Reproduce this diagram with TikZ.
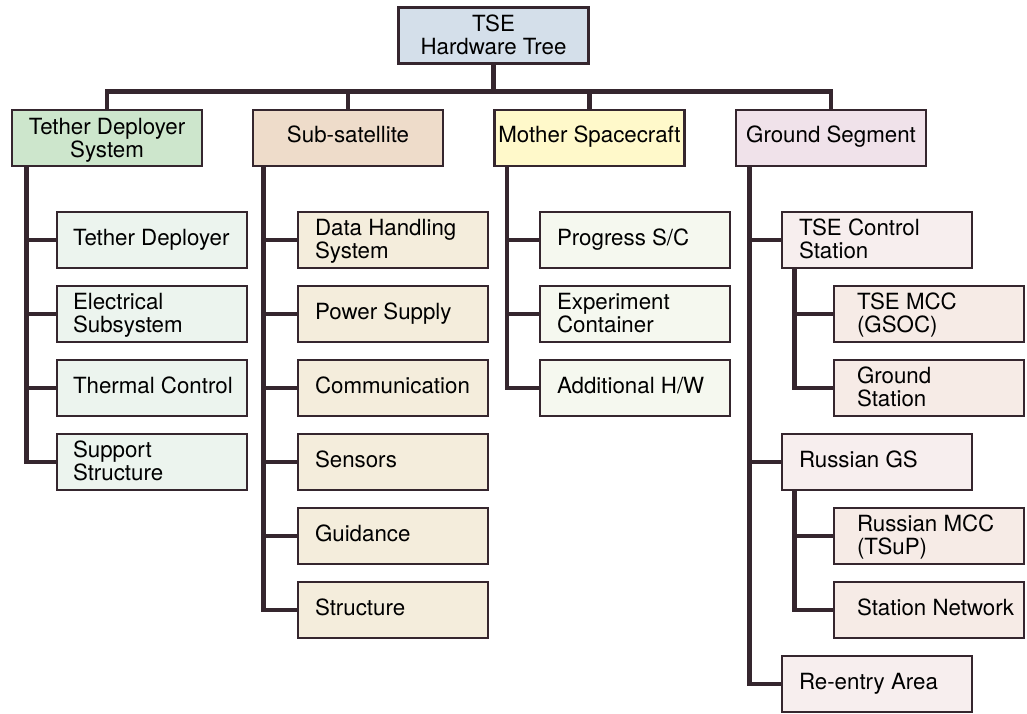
\documentclass[tikz,border=0pt]{standalone}
\usepackage{fontspec}
\setmainfont{TeX Gyre Heros}
\usetikzlibrary{backgrounds}
\definecolor{ln}{HTML}{35262E}
\definecolor{cTop}{HTML}{D4DFEA}
\definecolor{cTDS}{HTML}{CDE6CC}
\definecolor{cSS}{HTML}{EEDCCA}
\definecolor{cMS}{HTML}{FFF9CA}
\definecolor{cGS}{HTML}{F0E2EA}
\definecolor{kTDS}{HTML}{ECF4EE}
\definecolor{kSS}{HTML}{F4EDDC}
\definecolor{kMS}{HTML}{F5F8EF}
\definecolor{kGS}{HTML}{F7EEEE}
\definecolor{kGSb}{HTML}{F6EBE6}
\newcommand\Ltxt[3]{\raisebox{#1}[0pt][0pt]{\makebox[#2][l]{\begin{tabular}[b]{@{}l@{}}#3\end{tabular}}}}
\newcommand\Ctxt[2]{\raisebox{#1}[0pt][0pt]{\begin{tabular}[b]{@{}c@{}}#2\end{tabular}}}
\begin{document}
\begin{tikzpicture}[x=1pt,y=-1pt,
  bx/.style={draw=ln, line width=2.7pt, inner sep=0pt, minimum width=190pt, minimum height=56pt, font=\fontsize{22.3}{21}\selectfont},
  conn/.style={draw=ln, line width=4.5pt, line join=miter}]
\useasboundingbox (0,0) rectangle (1027,713);
% root
\node[bx, fill=cTop] (top) at (493.5,35.5) {\Ctxt{-18.5pt}{TSE\\Hardware Tree}};
% level 1
\node[bx, fill=cTDS] (tds) at (107,138) {\Ctxt{-19pt}{Tether Deployer\\System}};
\node[bx, fill=cSS] (ss) at (348,138) {\Ctxt{-4.5pt}{Sub-satellite}};
\node[bx, fill=cMS] (ms) at (589.5,138) {\Ctxt{-4.5pt}{Mother Spacecraft}};
\node[bx, fill=cGS] (gs) at (831,138) {\Ctxt{-4.5pt}{Ground Segment}};
% TDS children
\node[bx, fill=kTDS] (td1) at (152,240) {\Ltxt{-5pt}{158pt}{Tether Deployer}};
\node[bx, fill=kTDS] (td2) at (152,314) {\Ltxt{-18.5pt}{158pt}{Electrical\\Subsystem}};
\node[bx, fill=kTDS] (td3) at (152,388) {\Ltxt{-5pt}{158pt}{Thermal Control}};
\node[bx, fill=kTDS] (td4) at (152,462) {\Ltxt{-18.5pt}{158pt}{Support\\Structure}};
% Sub-satellite children
\node[bx, fill=kSS] (ss1) at (393,240) {\Ltxt{-18.5pt}{156pt}{Data Handling\\System}};
\node[bx, fill=kSS] (ss2) at (393,314) {\Ltxt{-5pt}{156pt}{Power Supply}};
\node[bx, fill=kSS] (ss3) at (393,388) {\Ltxt{-5pt}{156pt}{Communication}};
\node[bx, fill=kSS] (ss4) at (393,462) {\Ltxt{-5pt}{156pt}{Sensors}};
\node[bx, fill=kSS] (ss5) at (393,536) {\Ltxt{-5pt}{156pt}{Guidance}};
\node[bx, fill=kSS] (ss6) at (393,610) {\Ltxt{-5pt}{156pt}{Structure}};
% Mother spacecraft children
\node[bx, fill=kMS] (ms1) at (635,240) {\Ltxt{-5pt}{156pt}{Progress S/C}};
\node[bx, fill=kMS] (ms2) at (635,314) {\Ltxt{-18.5pt}{156pt}{Experiment\\Container}};
\node[bx, fill=kMS] (ms3) at (635,388) {\Ltxt{-5pt}{156pt}{Additional H/W}};
% Ground segment children
\node[bx, fill=kGS] (tcs) at (877,240) {\Ltxt{-18.5pt}{156pt}{TSE Control\\Station}};
\node[bx, fill=kGSb] (mcc) at (929,314) {\Ltxt{-18.5pt}{144pt}{TSE MCC\\(GSOC)}};
\node[bx, fill=kGSb] (gst) at (929,388) {\Ltxt{-18.5pt}{144pt}{Ground\\Station}};
\node[bx, fill=kGS] (rgs) at (877,462) {\Ltxt{-5pt}{156pt}{Russian GS}};
\node[bx, fill=kGSb] (rmcc) at (929,536) {\Ltxt{-18.5pt}{144pt}{Russian MCC\\(TSuP)}};
\node[bx, fill=kGSb] (sn) at (929,610) {\Ltxt{-5pt}{144pt}{Station Network}};
\node[bx, fill=kGS] (re) at (877,684) {\Ltxt{-5pt}{156pt}{Re-entry Area}};
% connectors
\begin{scope}[on background layer]
\coordinate (bus) at (0,91.5);
\draw[conn] (top.south) -- (top.south |- bus);
\draw[conn] (tds.north) -- (tds.north |- bus) -- (gs.north |- bus) -- (gs.north);
\draw[conn] (ss.north |- bus) -- (ss.north);
\draw[conn] (ms.north |- bus) -- (ms.north);
% TDS trunk
\coordinate (t1) at ([xshift=16pt]tds.south west);
\draw[conn] (t1) |- (td4.west);
\draw[conn] (t1 |- td1.west) -- (td1.west);
\draw[conn] (t1 |- td2.west) -- (td2.west);
\draw[conn] (t1 |- td3.west) -- (td3.west);
% SS trunk
\coordinate (s1) at ([xshift=12pt]ss.south west);
\draw[conn] (s1) |- (ss6.west);
\draw[conn] (s1 |- ss1.west) -- (ss1.west);
\draw[conn] (s1 |- ss2.west) -- (ss2.west);
\draw[conn] (s1 |- ss3.west) -- (ss3.west);
\draw[conn] (s1 |- ss4.west) -- (ss4.west);
\draw[conn] (s1 |- ss5.west) -- (ss5.west);
% MS trunk
\coordinate (m1) at ([xshift=14pt]ms.south west);
\draw[conn] (m1) |- (ms3.west);
\draw[conn] (m1 |- ms1.west) -- (ms1.west);
\draw[conn] (m1 |- ms2.west) -- (ms2.west);
% GS trunk
\coordinate (g1) at ([xshift=15pt]gs.south west);
\draw[conn] (g1) |- (re.west);
\draw[conn] (g1 |- tcs.west) -- (tcs.west);
\draw[conn] (g1 |- rgs.west) -- (rgs.west);
\coordinate (g2) at ([xshift=14pt]tcs.south west);
\draw[conn] (g2) |- (gst.west);
\draw[conn] (g2 |- mcc.west) -- (mcc.west);
\coordinate (g3) at ([xshift=14pt]rgs.south west);
\draw[conn] (g3) |- (sn.west);
\draw[conn] (g3 |- rmcc.west) -- (rmcc.west);
\end{scope}
\end{tikzpicture}
\end{document}
